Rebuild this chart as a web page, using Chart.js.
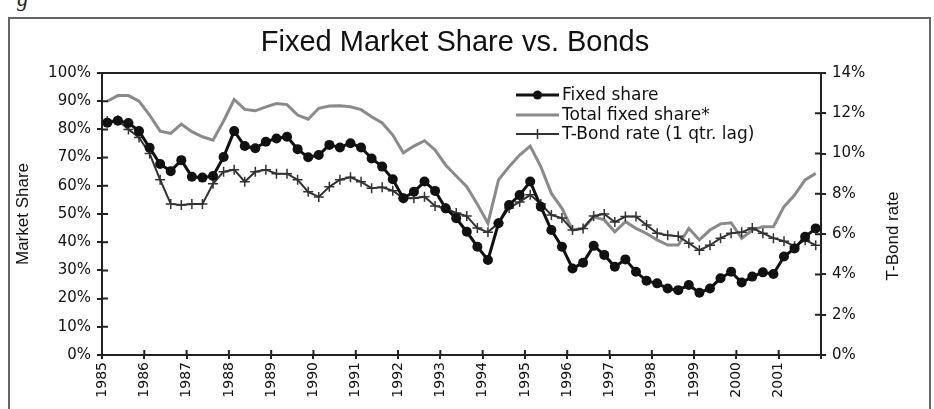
<!DOCTYPE html>
<html>
<head>
<meta charset="utf-8">
<title>Fixed Market Share vs. Bonds</title>
<script src="https://cdn.jsdelivr.net/npm/chart.js@4.4.1/dist/chart.umd.min.js"></script>
<style>
  html, body { margin: 0; padding: 0; background: #fff; }
  #wrap { position: relative; width: 934px; height: 409px; overflow: hidden; }
  #frame { position: absolute; left: 8px; top: 17px; width: 919px; height: 420px; border: 2px solid #666; }
  #fig { position: absolute; left: 17px; top: -14px; font: italic 22px 'Liberation Serif', serif; color: #222; }
  canvas { position: absolute; left: 0; top: 0; }
</style>
</head>
<body>
<div id="wrap">
  <div id="frame"></div>
  <span id="fig">g</span>
  <canvas id="chart" width="934" height="409"></canvas>
</div>
<script>
// quarterly series, 1985 Q1 .. 2001 Q4
const startYear = 1985;
const yearLabels = ['1985', '1986', '1987', '1988', '1989', '1990', '1991', '1992', '1993',
    '1994', '1995', '1996', '1997', '1998', '1999', '2000', '2001'];

// left axis, market share %
const fixedShare = [
    82.4, 83.1, 82.3, 79.4, 73.5, 67.7, 65.2, 69.1, 63.2, 62.9, 63.5, 70.2,
    79.4, 74.1, 73.3, 75.6, 76.8, 77.4, 73.0, 70.1, 70.9, 74.5, 73.6, 75.1,
    73.6, 69.7, 66.8, 62.3, 55.6, 57.9, 61.5, 58.2, 52.0, 48.5, 43.7, 38.4,
    33.7, 46.7, 53.2, 56.7, 61.5, 52.6, 44.3, 38.4, 30.7, 32.7, 38.7, 35.5,
    31.3, 33.9, 29.5, 26.3, 25.4, 23.6, 23.0, 24.8, 22.1, 23.6, 27.2, 29.5,
    25.7, 27.8, 29.3, 28.7, 34.9, 37.8, 41.9, 44.9
];
const totalFixedShare = [
    90.0, 92.0, 92.0, 90.0, 85.1, 79.4, 78.6, 81.9, 79.2, 77.4, 76.2, 83.0,
    90.6, 87.1, 86.6, 88.0, 89.2, 88.8, 85.1, 83.6, 87.5, 88.3, 88.4, 88.0,
    87.0, 84.5, 82.3, 78.0, 71.7, 74.1, 76.0, 72.7, 67.4, 63.5, 59.7, 53.5,
    46.7, 62.1, 66.8, 70.9, 74.1, 66.8, 57.3, 52.0, 44.3, 44.9, 49.0, 47.9,
    43.7, 47.3, 44.9, 43.1, 40.8, 39.0, 39.0, 44.9, 40.8, 44.3, 46.5, 46.9,
    41.4, 44.3, 45.5, 45.5, 52.6, 56.7, 62.1, 64.4
];
// right axis, T-Bond rate % (1 qtr. lag)
const tBondRate = [
    11.6, 11.65, 11.2, 10.8, 10.0, 8.7, 7.5, 7.45, 7.5, 7.5, 8.5, 9.1,
    9.2, 8.6, 9.1, 9.2, 9.0, 9.0, 8.7, 8.1, 7.85, 8.35, 8.7, 8.82,
    8.6, 8.28, 8.33, 8.16, 7.78, 7.78, 7.86, 7.4, 7.28, 7.05, 6.9, 6.3,
    6.1, 6.55, 7.3, 7.6, 7.95, 7.5, 6.95, 6.8, 6.2, 6.28, 6.9, 7.0,
    6.6, 6.87, 6.87, 6.45, 6.05, 5.95, 5.9, 5.55, 5.2, 5.45, 5.8, 6.05,
    6.1, 6.3, 6.05, 5.8, 5.65, 5.4, 5.7, 5.45
];

const quarterX = i => startYear + (i + 0.5) / 4;
const toPoints = arr => arr.map((v, i) => ({ x: quarterX(i), y: v }));

const AXIS = '#222';
const SANS = "'Liberation Sans', Arial, sans-serif";
const WIDE = "'DejaVu Sans', Verdana, sans-serif";

// title, top edge, inner tick marks, right axis title and the legend box
const boxAndLegend = {
    id: 'boxAndLegend',
    afterDraw(chart) {
        const { ctx, chartArea: a, scales } = chart;
        ctx.save();

        ctx.fillStyle = '#111';
        ctx.font = '29px ' + SANS;
        ctx.textAlign = 'center';
        ctx.textBaseline = 'middle';
        ctx.fillText('Fixed Market Share vs. Bonds', 455, 43);

        ctx.strokeStyle = AXIS;
        ctx.lineWidth = 2;
        ctx.beginPath();
        ctx.moveTo(a.left - 1, a.top);
        ctx.lineTo(a.right + 1, a.top);
        scales.y.ticks.forEach(t => {
            const py = scales.y.getPixelForValue(t.value);
            ctx.moveTo(a.left, py); ctx.lineTo(a.left + 6, py);
        });
        scales.y2.ticks.forEach(t => {
            const py = scales.y2.getPixelForValue(t.value);
            ctx.moveTo(a.right, py); ctx.lineTo(a.right - 6, py);
        });
        scales.x.ticks.forEach(t => {
            const px = scales.x.getPixelForValue(t.value);
            ctx.moveTo(px, a.bottom); ctx.lineTo(px, a.bottom - 5);
        });
        ctx.stroke();

        // right title reads bottom to top
        ctx.font = '17px ' + SANS;
        ctx.translate(893, 236);
        ctx.rotate(-Math.PI / 2);
        ctx.fillText('T-Bond rate', 0, 0);
        ctx.setTransform(1, 0, 0, 1, 0, 0);

        // legend
        const x0 = a.left + 414, x1 = a.left + 457, xm = (x0 + x1) / 2;
        const rows = [a.top + 22, a.top + 42, a.top + 61];
        chart.data.datasets.forEach((ds, i) => {
            const y = rows[i];
            ctx.strokeStyle = ds.borderColor;
            ctx.lineWidth = ds.borderWidth;
            ctx.beginPath(); ctx.moveTo(x0, y); ctx.lineTo(x1, y); ctx.stroke();
            if (ds.pointStyle === 'circle' && ds.pointRadius) {
                ctx.fillStyle = ds.pointBackgroundColor;
                ctx.beginPath(); ctx.arc(xm, y, 4.5, 0, Math.PI * 2); ctx.fill();
            } else if (ds.pointStyle === 'cross') {
                ctx.lineWidth = 1.5;
                ctx.beginPath(); ctx.moveTo(xm, y - 5); ctx.lineTo(xm, y + 5); ctx.stroke();
            }
            ctx.fillStyle = '#111';
            ctx.font = '17px ' + WIDE;
            ctx.textAlign = 'left';
            ctx.textBaseline = 'middle';
            ctx.fillText(ds.label, x1 + 3, y + 1);
        });
        ctx.restore();
    }
};

new Chart(document.getElementById('chart'), {
    type: 'line',
    data: {
        datasets: [
            {
                label: 'Fixed share',
                data: toPoints(fixedShare),
                yAxisID: 'y',
                borderColor: '#111',
                borderWidth: 3,
                pointStyle: 'circle',
                pointRadius: 5,
                pointBackgroundColor: '#111',
                pointBorderWidth: 0,
                order: 0
            },
            {
                label: 'Total fixed share*',
                data: toPoints(totalFixedShare),
                yAxisID: 'y',
                borderColor: '#8a8a8a',
                borderWidth: 3,
                pointStyle: false,
                pointRadius: 0,
                order: 2
            },
            {
                label: 'T-Bond rate (1 qtr. lag)',
                data: toPoints(tBondRate),
                yAxisID: 'y2',
                borderColor: '#333',
                borderWidth: 2,
                pointStyle: 'cross',
                pointRadius: 5,
                pointBorderColor: '#333',
                pointBorderWidth: 1.5,
                order: 1
            }
        ]
    },
    options: {
        responsive: false,
        animation: false,
        devicePixelRatio: 1,
        layout: { padding: { left: 13, right: 0, top: 73, bottom: 0 } },
        plugins: {
            legend: { display: false },
            tooltip: { enabled: false },
            title: { display: false }
        },
        scales: {
            x: {
                type: 'linear',
                min: startYear,
                max: startYear + yearLabels.length,
                afterFit: s => { s.height = 54; },
                border: { display: true, color: AXIS, width: 2 },
                grid: { drawOnChartArea: false, drawTicks: true, tickLength: 4, color: AXIS, lineWidth: 2 },
                ticks: {
                    stepSize: 1,
                    autoSkip: false,
                    maxRotation: 90,
                    minRotation: 90,
                    padding: 3,
                    color: '#111',
                    font: { family: WIDE, size: 14 },
                    callback: v => yearLabels[v - startYear] || ''
                }
            },
            y: {
                position: 'left',
                min: 0,
                max: 100,
                afterFit: s => { s.width = 89; },
                border: { display: true, color: AXIS, width: 2 },
                grid: { drawOnChartArea: false, drawTicks: true, tickLength: 5, color: AXIS, lineWidth: 2 },
                title: {
                    display: true,
                    text: 'Market Share',
                    color: '#111',
                    font: { family: SANS, size: 17 },
                    padding: 0
                },
                ticks: {
                    stepSize: 10,
                    padding: 6,
                    color: '#111',
                    font: { family: WIDE, size: 15 },
                    callback: v => v + '%'
                }
            },
            y2: {
                position: 'right',
                min: 0,
                max: 14,
                afterFit: s => { s.width = 113; },
                border: { display: true, color: AXIS, width: 2 },
                grid: { drawOnChartArea: false, drawTicks: true, tickLength: 5, color: AXIS, lineWidth: 2 },
                ticks: {
                    stepSize: 2,
                    padding: 6,
                    color: '#111',
                    font: { family: WIDE, size: 15 },
                    callback: v => v + '%'
                }
            }
        }
    },
    plugins: [boxAndLegend]
});
</script>
</body>
</html>
